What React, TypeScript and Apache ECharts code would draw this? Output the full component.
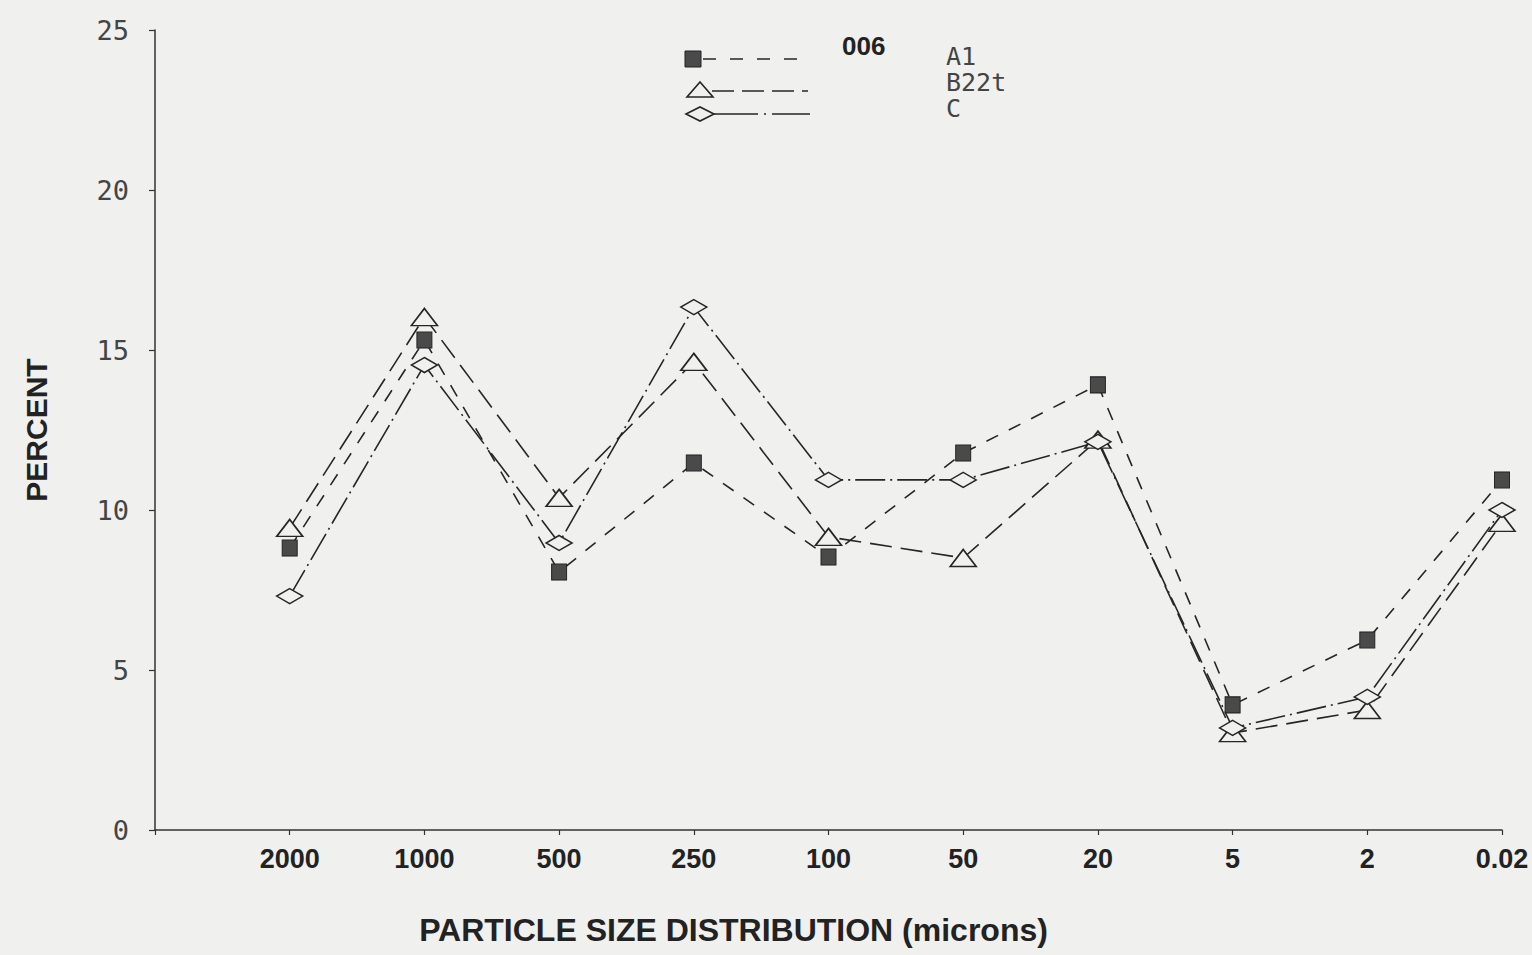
import React, { useEffect, useRef } from 'react';
import * as echarts from 'echarts';

const categories = ['2000', '1000', '500', '250', '100', '50', '20', '5', '2', '0.02'];
const seriesNames = ['A1', 'B22t', 'C'];
const a1Values = [8.81, 15.31, 8.06, 11.47, 8.53, 11.78, 13.91, 3.91, 5.94, 10.94];
const b22tValues = [9.44, 16.03, 10.38, 14.63, 9.16, 8.5, 12.2, 3.03, 3.75, 9.6];
const cValues = [7.31, 14.53, 8.97, 16.34, 10.94, 10.94, 12.13, 3.19, 4.16, 10.0];
const yMin = 0;
const yMax = 25;
const yStep = 5;
const sampleId = '006';
const xTitle = 'PARTICLE SIZE DISTRIBUTION (microns)';
const yTitle = 'PERCENT';

const BG = '#f0f0ee';
const INK = '#262626';
const PLOT_FONT = '"DejaVu Sans Mono", monospace';
const BOLD_FONT = '"Liberation Sans", Arial, sans-serif';

const toPairs = (vals: number[]) => vals.map((v, i) => [i + 1, v]);

export default function App() {
  const ref = useRef<HTMLDivElement>(null);
  useEffect(() => {
    if (!ref.current) return;
    const chart = echarts.init(ref.current, undefined, { renderer: 'svg' });
    const lineBase = { width: 1.6, color: INK };
    const legendText = (text: string, y: number) => ({
      type: 'text',
      x: 946,
      y,
      style: { text, fontFamily: PLOT_FONT, fontSize: 25, lineHeight: 22, fill: '#444', verticalAlign: 'middle' },
    });
    chart.setOption({
      animation: false,
      backgroundColor: BG,
      grid: { left: 155, right: 30, top: 30, bottom: 125 },
      xAxis: {
        type: 'value',
        min: 0,
        max: categories.length,
        interval: 1,
        name: xTitle,
        nameLocation: 'middle',
        nameGap: 84,
        nameTextStyle: {
          fontFamily: BOLD_FONT,
          fontWeight: 'bold',
          fontSize: 32,
          color: '#222',
          padding: [0, 190, 0, 0],
        },
        axisLine: { show: true, lineStyle: { color: '#333', width: 1.5 } },
        axisTick: { show: true, length: 5, lineStyle: { color: '#333', width: 1.2 } },
        splitLine: { show: false },
        axisLabel: {
          margin: 15,
          fontFamily: BOLD_FONT,
          fontWeight: 'bold',
          fontSize: 27,
          color: '#222',
          formatter: (v: number) => (v >= 1 && v <= categories.length ? categories[v - 1] : ''),
        },
      },
      yAxis: {
        type: 'value',
        min: yMin,
        max: yMax,
        interval: yStep,
        name: yTitle,
        nameLocation: 'middle',
        nameGap: 104,
        nameTextStyle: {
          fontFamily: BOLD_FONT,
          fontWeight: 'bold',
          fontSize: 30,
          color: '#222',
        },
        axisLine: { show: true, lineStyle: { color: '#333', width: 1.5 } },
        axisTick: { show: true, length: 6, lineStyle: { color: '#333', width: 1.2 } },
        splitLine: { show: false },
        axisLabel: {
          margin: 26,
          fontFamily: PLOT_FONT,
          fontSize: 27,
          color: '#444',
        },
      },
      series: [
        {
          name: seriesNames[0],
          type: 'line',
          data: toPairs(a1Values),
          symbol: 'rect',
          symbolSize: [15, 16],
          itemStyle: { color: '#4a4a4a', borderColor: '#222', borderWidth: 1 },
          lineStyle: { ...lineBase, type: [13, 12] },
          z: 3,
        },
        {
          name: seriesNames[1],
          type: 'line',
          data: toPairs(b22tValues),
          symbol: 'triangle',
          symbolSize: [26, 17],
          itemStyle: { color: BG, borderColor: INK, borderWidth: 1.6 },
          lineStyle: { ...lineBase, type: [22, 9] },
          z: 2,
        },
        {
          name: seriesNames[2],
          type: 'line',
          data: toPairs(cValues),
          symbol: 'diamond',
          symbolSize: [26, 15],
          itemStyle: { color: BG, borderColor: INK, borderWidth: 1.6 },
          lineStyle: { ...lineBase, type: [30, 5, 2, 5] },
          z: 2,
        },
      ],
      graphic: [
        { type: 'rect', shape: { x: 685, y: 51, width: 16, height: 16 }, style: { fill: '#4a4a4a', stroke: '#222', lineWidth: 1 } },
        { type: 'line', shape: { x1: 703, y1: 59, x2: 800, y2: 59 }, style: { stroke: INK, lineWidth: 1.6, lineDash: [13, 14] } },
        { type: 'polygon', shape: { points: [[687, 97], [713, 97], [700, 82]] }, style: { fill: BG, stroke: INK, lineWidth: 1.6 } },
        { type: 'line', shape: { x1: 712, y1: 91, x2: 808, y2: 91 }, style: { stroke: INK, lineWidth: 1.6, lineDash: [22, 8] } },
        { type: 'polygon', shape: { points: [[686, 114], [700, 107], [714, 114], [700, 121]] }, style: { fill: BG, stroke: INK, lineWidth: 1.6 } },
        { type: 'line', shape: { x1: 714, y1: 114, x2: 810, y2: 114 }, style: { stroke: INK, lineWidth: 1.6, lineDash: [44, 6, 2, 6] } },
        { type: 'text', x: 842, y: 46, style: { text: sampleId, fontFamily: BOLD_FONT, fontWeight: 'bold', fontSize: 26, fill: '#222', verticalAlign: 'middle' } },
        legendText(seriesNames[0], 56),
        legendText(seriesNames[1], 82),
        legendText(seriesNames[2], 108),
      ],
    });
    return () => chart.dispose();
  }, []);
  return <div ref={ref} style={{ position: 'fixed', left: 0, top: 0, width: 1532, height: 955 }} />;
}
